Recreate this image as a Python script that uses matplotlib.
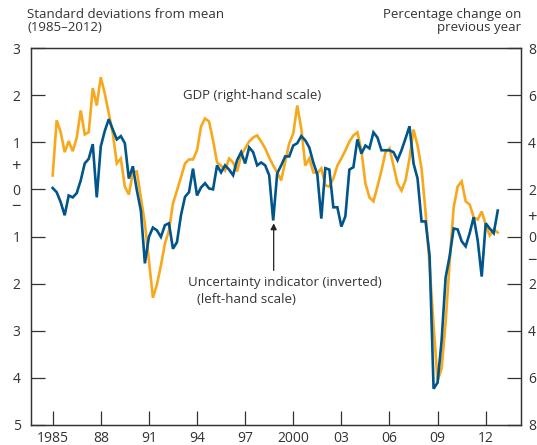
import numpy as np
import matplotlib
matplotlib.use("Agg")
import matplotlib.pyplot as plt

# Quarterly data, 1985 Q1 - 2012 Q4
start_year = 1985
uncertainty = [  # standard deviations from mean, inverted (positive = low uncertainty)
    0.03, -0.06, -0.27, -0.55,
    -0.13, -0.17, -0.08, 0.19,
    0.55, 0.65, 0.96, -0.17,
    0.91, 1.24, 1.49, 1.27,
    1.06, 1.13, 0.98, 0.23,
    0.49, -0.02, -0.45, -1.57,
    -1.01, -0.81, -0.87, -1.01,
    -0.76, -0.72, -1.26, -1.12,
    -0.55, -0.16, -0.06, 0.44,
    -0.13, 0.04, 0.13, 0.02,
    0.00, 0.51, 0.36, 0.51,
    0.42, 0.30, 0.62, 0.79,
    0.55, 0.89, 0.79, 0.51,
    0.57, 0.51, 0.30, -0.66,
    0.34, 0.51, 0.70, 0.70,
    0.93, 0.98, 1.13, 1.04,
    0.89, 0.57, 0.32, -0.62,
    0.45, 0.42, -0.38, -0.38,
    -0.79, -0.57, 0.42, 0.47,
    1.06, 0.76, 0.93, 0.87,
    1.21, 1.10, 0.83, 0.83,
    0.83, 0.79, 0.62, 0.83,
    1.08, 1.34, 0.55, 0.23,
    -0.68, -0.68, -1.40, -4.23,
    -4.10, -3.21, -1.87, -1.42,
    -0.83, -0.85, -1.10, -1.21,
    -0.93, -0.59, -1.08, -1.85,
    -0.72, -0.83, -0.93, -0.45,
]
gdp = [  # percentage change on previous year
    2.59, 4.93, 4.43, 3.58,
    4.05, 3.62, 4.19, 5.35,
    4.33, 4.43, 6.30, 5.56,
    6.76, 6.07, 5.22, 4.37,
    3.10, 3.31, 2.12, 1.78,
    2.72, 2.76, 1.66, 0.55,
    -1.00, -2.60, -2.04, -1.23,
    -0.30, 0.25, 1.40, 1.95,
    2.51, 3.10, 3.27, 3.27,
    3.65, 4.67, 5.01, 4.88,
    4.08, 3.14, 3.01, 2.80,
    3.31, 3.14, 2.76, 3.44,
    3.74, 4.03, 4.20, 4.29,
    4.03, 3.74, 3.35, 3.01,
    2.72, 2.38, 3.18, 3.95,
    4.37, 5.56, 4.59, 3.01,
    3.31, 2.72, 2.68, 2.89,
    2.17, 2.12, 2.46, 3.01,
    3.31, 3.65, 4.03, 4.29,
    4.42, 3.65, 2.25, 1.66,
    1.49, 2.12, 2.80, 3.57,
    3.74, 3.01, 2.25, 1.95,
    2.38, 3.31, 4.54, 3.86,
    2.89, 1.02, -1.23, -3.78,
    -6.11, -5.61, -3.65, -1.10,
    1.23, 2.12, 2.34, 1.49,
    1.36, 0.81, 0.72, 1.06,
    0.51, 0.04, 0.30, 0.17,
]
xtick_years = [1985, 1988, 1991, 1994, 1997, 2000, 2003, 2006, 2009, 2012]
xtick_labels = ["1985", "88", "91", "94", "97", "2000", "03", "06", "09", "12"]
left_ticks = [3, 2, 1, 0, -1, -2, -3, -4, -5]
left_labels = ["3", "2", "1", "0", "1", "2", "3", "4", "5"]
right_ticks = [8, 6, 4, 2, 0, -2, -4, -6, -8]
right_labels = ["8", "6", "4", "2", "0", "2", "4", "6", "8"]

t = start_year + np.arange(len(gdp)) / 4.0

plt.rcParams['font.family'] = ['Open Sans', 'DejaVu Sans']
TXT = '#333333'
ORANGE = '#F8A81C'
BLUE = '#00558B'

fig = plt.figure(figsize=(5.37, 4.45), dpi=100)
ax = fig.add_axes([31/537, 1-425/445, 490/537, 377/445])
ax2 = ax.twinx()

ax2.plot(t, gdp, color=ORANGE, lw=1.9, solid_joinstyle='miter')
ax.plot(t, uncertainty, color=BLUE, lw=1.9, solid_joinstyle='miter')
ax.set_zorder(ax2.get_zorder() + 1)
ax.patch.set_visible(False)

ax.set_xlim(1983.65, 2014.2)
ax.set_ylim(-5, 3)
ax2.set_ylim(-8, 8)

ax.set_xticks(xtick_years)
ax.set_xticklabels(xtick_labels)
ax.set_yticks(left_ticks)
ax.set_yticklabels(left_labels)
ax2.set_yticks(right_ticks)
ax2.set_yticklabels(right_labels)

for a in (ax, ax2):
    for s in a.spines.values():
        s.set_color(TXT)
        s.set_linewidth(0.9)
ax.tick_params(axis='both', direction='in', length=10, width=0.9, color=TXT,
               labelcolor=TXT, labelsize=10)
ax.tick_params(axis='y', pad=7.5)
ax.tick_params(axis='x', pad=4)
ax2.tick_params(axis='y', direction='in', length=10, width=0.9, color=TXT,
                labelcolor=TXT, labelsize=10, pad=5)

# plus / minus signs around zero
ax.text(-0.031, 0.47, '+', transform=ax.get_yaxis_transform(), ha='center', va='center',
        fontsize=12, color=TXT)
ax.text(-0.031, -0.38, '\u2212', transform=ax.get_yaxis_transform(), ha='center', va='center',
        fontsize=12, color=TXT)
ax2.text(1.022, 0.80, '+', transform=ax2.get_yaxis_transform(), ha='center', va='center',
         fontsize=12, color=TXT)
ax2.text(1.022, -1.02, '\u2212', transform=ax2.get_yaxis_transform(), ha='center', va='center',
         fontsize=12, color=TXT)

# headers
fig.text(27/537, 1-8/445, 'Standard deviations from mean\n(1985\u20132012)', ha='left', va='top',
         fontsize=9.5, color=TXT, linespacing=1.0)
fig.text(521/537, 1-8/445, 'Percentage change on\nprevious year', ha='right', va='top',
         fontsize=9.5, color=TXT, linespacing=1.0, multialignment='right')

# annotations
ax.text(0.451, 0.875, 'GDP (right-hand scale)', transform=ax.transAxes, ha='center', va='center',
        fontsize=9.5, color=TXT)
ax.text(0.320, 0.379, 'Uncertainty indicator (inverted)', transform=ax.transAxes, ha='left',
        va='center', fontsize=9.5, color=TXT)
ax.text(0.339, 0.332, '(left-hand scale)', transform=ax.transAxes, ha='left',
        va='center', fontsize=9.5, color=TXT)
ax.annotate('', xy=(1998.78, -0.72), xytext=(1998.78, -1.72),
            arrowprops=dict(arrowstyle='-|>', color='#222222', lw=0.9,
                            mutation_scale=9, shrinkA=0, shrinkB=0))

fig.savefig('out.png', dpi=100)
